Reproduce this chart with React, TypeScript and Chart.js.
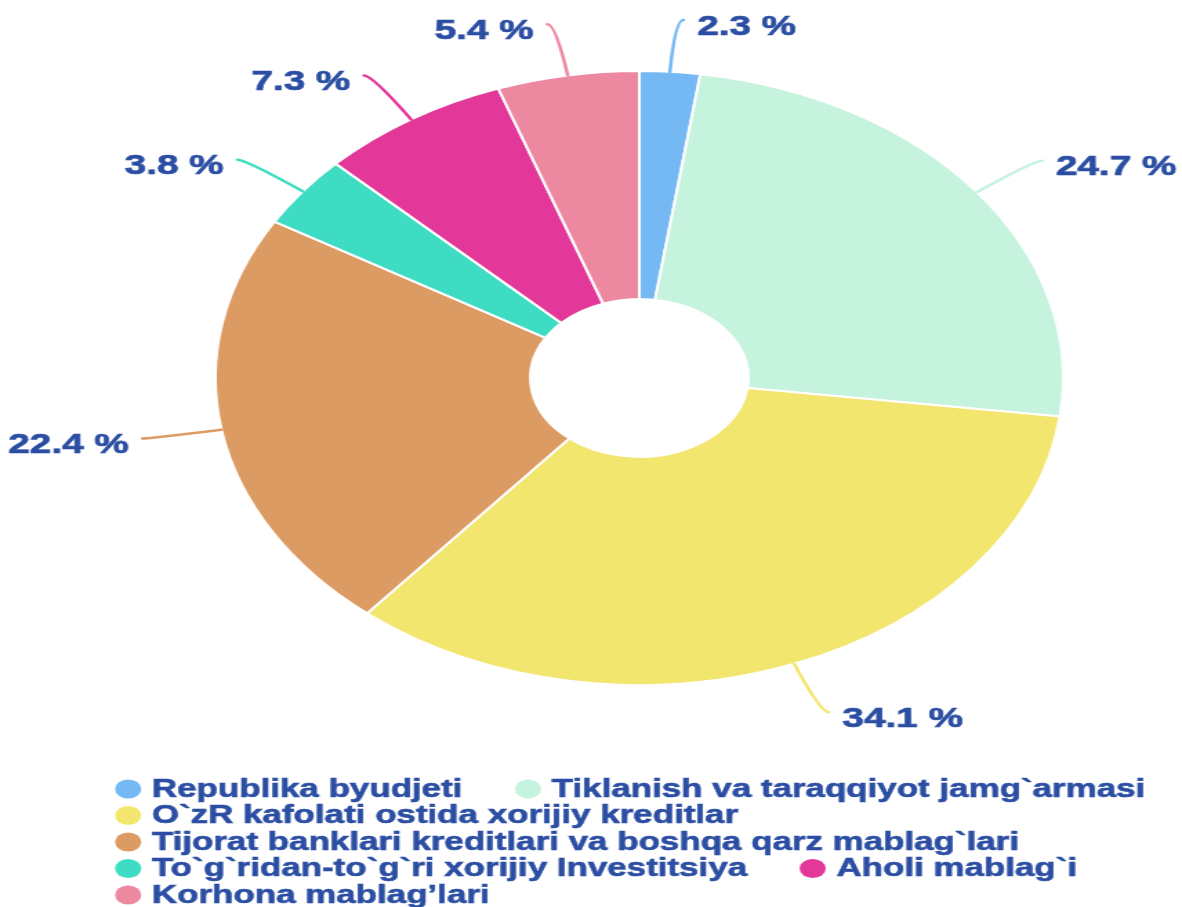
import React, { useEffect, useRef } from 'react';
import { Chart, registerables } from 'chart.js';

Chart.register(...registerables);

const categories = [
  'Republika byudjeti',
  'Tiklanish va taraqqiyot jamg`armasi',
  'O`zR kafolati ostida xorijiy kreditlar',
  'Tijorat banklari kreditlari va boshqa qarz mablag`lari',
  'To`g`ridan-to`g`ri xorijiy Investitsiya',
  'Aholi mablag`i',
  'Korhona mablag’lari',
];
const shares = [2.3, 24.7, 34.1, 22.4, 3.8, 7.3, 5.4];
const sliceColors = ['#74b9f3', '#c5f3de', '#f3e66e', '#dd9b64', '#3ddcc3', '#e3389a', '#ed88a1'];
const textColor = '#2b4ea3';

const CANVAS_W = 856;
const CANVAS_H = 907;

const leaderLabels = {
  id: 'leaderLabels',
  afterDatasetsDraw(chart: any) {
    const ctx = chart.ctx;
    const meta = chart.getDatasetMeta(0);
    const ds = chart.data.datasets[0];
    ctx.save();
    meta.data.forEach((arc: any, i: number) => {
      const { x, y, startAngle, endAngle, outerRadius } = arc.getProps(
        ['x', 'y', 'startAngle', 'endAngle', 'outerRadius'],
        true
      );
      const mid = (startAngle + endAngle) / 2;
      const dx = Math.cos(mid);
      const dy = Math.sin(mid);
      const x0 = x + dx * outerRadius;
      const y0 = y + dy * outerRadius;
      const ext = outerRadius + 52;
      const px = x + dx * ext;
      const py = y + dy * ext;
      const sign = dx >= 0 ? 1 : -1;
      const ex = px + sign * 6;
      const ey = py;
      ctx.strokeStyle = ds.backgroundColor[i];
      ctx.lineWidth = 2.5;
      ctx.lineCap = 'round';
      ctx.beginPath();
      ctx.moveTo(x0, y0);
      ctx.quadraticCurveTo(px, py, ex, ey);
      ctx.stroke();
      const text = `${ds.data[i].toFixed(1)} %`;
      const tx = ex + sign * 10;
      const ty = ey + 7;
      ctx.fillStyle = textColor;
      ctx.strokeStyle = textColor;
      ctx.lineWidth = 0.7;
      ctx.font = 'bold 28px "Liberation Sans", Arial, sans-serif';
      ctx.textAlign = sign > 0 ? 'left' : 'right';
      ctx.textBaseline = 'middle';
      ctx.fillText(text, tx, ty);
      ctx.strokeText(text, tx, ty);
    });
    ctx.restore();
  },
};

const rowLegend = {
  id: 'rowLegend',
  afterDraw(chart: any) {
    const ctx = chart.ctx;
    const colors = chart.data.datasets[0].backgroundColor;
    const left = 83.3;
    const maxRight = 852;
    const r = 9.5;
    const textOffset = 26.7;
    const gap = 38;
    const rowH = 26.5;
    let x = left;
    let y = 789;
    ctx.save();
    ctx.font = 'bold 25.3px "Liberation Sans", Arial, sans-serif';
    ctx.textBaseline = 'middle';
    ctx.textAlign = 'left';
    ctx.lineWidth = 0.6;
    chart.data.labels.forEach((label: string, i: number) => {
      const w = ctx.measureText(label).width;
      const itemW = textOffset + w;
      if (x > left && x + itemW > maxRight) {
        x = left;
        y += rowH;
      }
      ctx.fillStyle = colors[i];
      ctx.beginPath();
      ctx.arc(x + r, y, r, 0, Math.PI * 2);
      ctx.fill();
      ctx.fillStyle = textColor;
      ctx.strokeStyle = textColor;
      ctx.fillText(label, x + textOffset, y + 1);
      ctx.strokeText(label, x + textOffset, y + 1);
      x += itemW + gap;
    });
    ctx.restore();
  },
};

export default function App() {
  const canvasRef = useRef<HTMLCanvasElement | null>(null);

  useEffect(() => {
    document.body.style.margin = '0';
    const canvas = canvasRef.current;
    if (!canvas) return;
    const chart = new Chart(canvas, {
      type: 'doughnut',
      data: {
        labels: categories,
        datasets: [
          {
            data: shares,
            backgroundColor: sliceColors,
            borderColor: '#ffffff',
            borderWidth: 2,
          },
        ],
      },
      options: {
        responsive: false,
        devicePixelRatio: 1,
        animation: false,
        radius: 307,
        cutout: '25.7%',
        layout: { padding: { top: 50, bottom: 201, left: 130, right: 60 } },
        plugins: {
          legend: { display: false },
          tooltip: { enabled: false },
        },
      } as any,
      plugins: [leaderLabels, rowLegend],
    });
    return () => chart.destroy();
  }, []);

  return (
    <div style={{ width: '1182px', height: '907px', background: '#ffffff' }}>
      <canvas
        ref={canvasRef}
        width={CANVAS_W}
        height={CANVAS_H}
        style={{ width: '1182px', height: '907px', display: 'block' }}
      />
    </div>
  );
}
